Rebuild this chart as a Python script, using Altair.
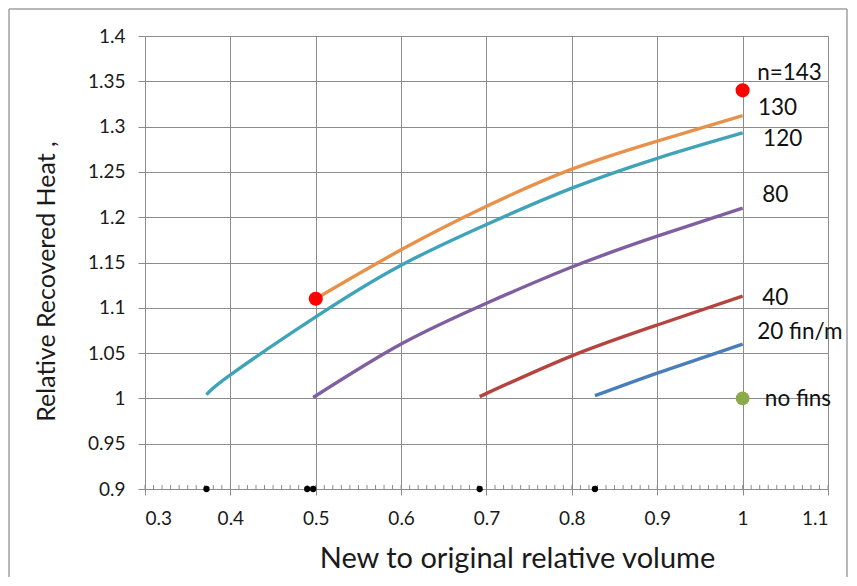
import altair as alt
import pandas as pd
import numpy as np

# ---- data ----
x_n130 = [0.50, 0.60, 0.70, 0.80, 0.90, 1.00]
y_n130 = [1.110, 1.164, 1.212, 1.253, 1.284, 1.312]

x_n120 = [0.372, 0.40, 0.50, 0.60, 0.70, 0.80, 0.90, 1.00]
y_n120 = [1.004, 1.026, 1.090, 1.147, 1.192, 1.232, 1.265, 1.293]

x_n80 = [0.497, 0.60, 0.70, 0.80, 0.90, 1.00]
y_n80 = [1.001, 1.060, 1.105, 1.145, 1.179, 1.210]

x_n40 = [0.692, 0.80, 0.90, 1.00]
y_n40 = [1.002, 1.047, 1.081, 1.113]

x_n20 = [0.827, 0.90, 1.00]
y_n20 = [1.003, 1.028, 1.060]

red_x = [0.50, 1.00]
red_y = [1.110, 1.340]

green_x = [1.00]
green_y = [1.000]

axis_dots_x = [0.372, 0.490, 0.497, 0.692, 0.827]
axis_dots_y = [0.9, 0.9, 0.9, 0.9, 0.9]

label_text = ["n=143", "130", "120", "80", "40", "20 fin/m", "no fins"]
label_x = [1.017, 1.018, 1.024, 1.023, 1.023, 1.017, 1.026]
label_y = [1.359, 1.321, 1.286, 1.2245, 1.111, 1.073, 0.999]

series_names = ["130", "120", "80", "40", "20"]
series_colors = ["#E8914A", "#3FA4B8", "#7F5FA0", "#B5443F", "#4A7EBB"]

x_ticks = [0.3, 0.4, 0.5, 0.6, 0.7, 0.8, 0.9, 1.0, 1.1]
y_ticks = [0.9, 0.95, 1.0, 1.05, 1.1, 1.15, 1.2, 1.25, 1.3, 1.35, 1.4]

# ---- build tables ----
rows = []
for name, xs, ys in [("130", x_n130, y_n130), ("120", x_n120, y_n120),
                     ("80", x_n80, y_n80), ("40", x_n40, y_n40),
                     ("20", x_n20, y_n20)]:
    for i, (a, b) in enumerate(zip(xs, ys)):
        rows.append({"series": name, "x": a, "y": b, "order": i})
lines_df = pd.DataFrame(rows)

red_df = pd.DataFrame({"x": red_x, "y": red_y})
green_df = pd.DataFrame({"x": green_x, "y": green_y})
dots_df = pd.DataFrame({"x": axis_dots_x, "y": axis_dots_y})
labels_df = pd.DataFrame({"t": label_text, "x": label_x, "y": label_y})
minor_df = pd.DataFrame({"x": np.round(np.arange(0.30, 1.1001, 0.01), 3)})
one_df = pd.DataFrame({"a": [0]})

W, H = 683, 453
PL, PT, PR, PB = 137, 28, 20, 88
FONT = "Lato"
GRID = "#8c8c8c"
FRAME = "#a0a0a0"

xscale = alt.Scale(domain=[0.3, 1.1], nice=False, zero=False)
yscale = alt.Scale(domain=[0.9, 1.4], nice=False, zero=False)

xaxis = alt.Axis(values=x_ticks, format="~g", title="New to original relative volume",
                 titleFont=FONT, titleFontSize=29, titleFontWeight="normal",
                 titleColor="#1a1a1a", titleX=372, titleY=78, titleBaseline="alphabetic",
                 labelFont=FONT, labelFontSize=19, labelColor="#1a1a1a", labelPadding=14,
                 tickSize=6, tickColor=GRID, domainColor=GRID,
                 gridColor=GRID, gridWidth=1)
yaxis = alt.Axis(values=y_ticks, format="~g", title="Relative Recovered Heat  ,",
                 titleFont=FONT, titleFontSize=25, titleFontWeight="normal",
                 titleColor="#1a1a1a", titleX=-91, titleY=245, titleAngle=-90,
                 titleAlign="center", titleBaseline="alphabetic",
                 labelFont=FONT, labelFontSize=19, labelColor="#1a1a1a", labelPadding=13,
                 tickSize=7, tickColor=GRID, domainColor=GRID,
                 gridColor=GRID, gridWidth=1)

frame_left = alt.Chart(one_df).mark_rule(color=FRAME, strokeWidth=1.5).encode(
    x=alt.value(-PL + 1), y=alt.value(-PT + 1), y2=alt.value(H + PB))
frame_top = alt.Chart(one_df).mark_rule(color=FRAME, strokeWidth=1.5).encode(
    x=alt.value(-PL + 1), x2=alt.value(W + PR - 1), y=alt.value(-PT + 1))
frame_right = alt.Chart(one_df).mark_rule(color=FRAME, strokeWidth=1.5).encode(
    x=alt.value(W + PR - 1), y=alt.value(-PT + 1), y2=alt.value(H + PB))

base_axes = alt.Chart(lines_df).mark_line(opacity=0).encode(
    x=alt.X("x:Q", scale=xscale, axis=xaxis),
    y=alt.Y("y:Q", scale=yscale, axis=yaxis),
    detail="series:N")

lines = alt.Chart(lines_df).mark_line(strokeWidth=3.4, interpolate="natural").encode(
    x=alt.X("x:Q", scale=xscale),
    y=alt.Y("y:Q", scale=yscale),
    color=alt.Color("series:N", scale=alt.Scale(domain=series_names, range=series_colors),
                    legend=None),
    order="order:Q")

minor = alt.Chart(minor_df).mark_rule(color=GRID, strokeWidth=1).encode(
    x=alt.X("x:Q", scale=xscale), y=alt.value(H - 4), y2=alt.value(H))

dots = alt.Chart(dots_df).mark_circle(color="black", size=40, opacity=1).encode(
    x=alt.X("x:Q", scale=xscale), y=alt.Y("y:Q", scale=yscale))

red = alt.Chart(red_df).mark_circle(color="#FF0000", size=200, opacity=1).encode(
    x=alt.X("x:Q", scale=xscale), y=alt.Y("y:Q", scale=yscale))

green = alt.Chart(green_df).mark_circle(color="#8BAA4A", size=190, opacity=1).encode(
    x=alt.X("x:Q", scale=xscale), y=alt.Y("y:Q", scale=yscale))

labels = alt.Chart(labels_df).mark_text(font=FONT, fontSize=22.5, color="#111",
                                        align="left", baseline="middle").encode(
    x=alt.X("x:Q", scale=xscale), y=alt.Y("y:Q", scale=yscale), text="t:N")

chart = alt.layer(frame_left, frame_top, frame_right, base_axes, minor, lines,
                  dots, red, green, labels).properties(
    width=W, height=H,
    autosize=alt.AutoSizeParams(type="none"),
    padding={"left": PL, "top": PT, "right": PR, "bottom": PB},
    background="white",
).configure_view(stroke=None).configure_axis(grid=True)

chart.save("out.html", embed_options={"renderer": "svg", "actions": False})
